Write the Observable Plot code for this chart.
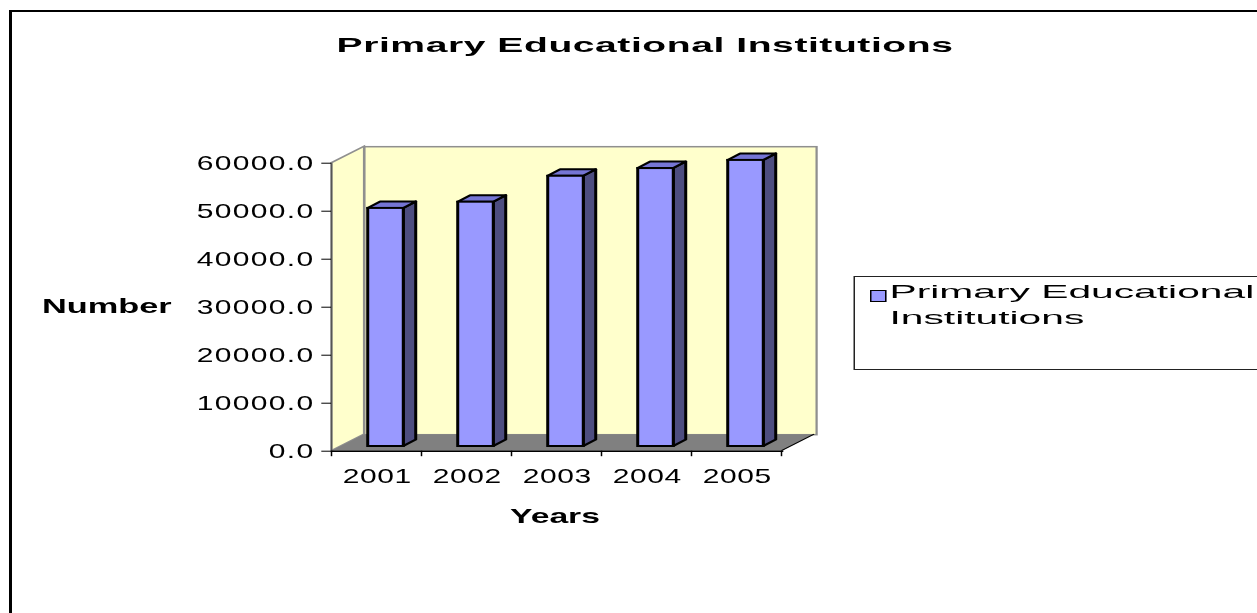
<!DOCTYPE html>
<html>
<head>
<meta charset="utf-8">
<script src="https://cdn.jsdelivr.net/npm/d3@7"></script>
<script src="https://cdn.jsdelivr.net/npm/@observablehq/plot@0.6"></script>
<style>
  html, body { margin: 0; padding: 0; background: #fff; overflow: hidden; width: 1257px; height: 613px; }
  #stage { position: absolute; left: 0; top: 0; width: 838px; height: 613px; transform: scaleX(1.5); transform-origin: 0 0; font-family: "Liberation Sans", Arial, sans-serif; color: #000; }
  #frame { position: absolute; left: 6px; top: 9.5px; width: 1000px; height: 1000px; border-left: 2px solid #000; border-top: 2px solid #000; box-sizing: border-box; }
  #chart { position: absolute; left: 0; top: 0; }
  .lbl { position: absolute; white-space: nowrap; }
  #title { left: 0; width: 860px; top: 32.7px; text-align: center; font-weight: bold; font-size: 21px; line-height: 24px; letter-spacing: 0.3px; transform: scaleX(1.24); transform-origin: 50% 50%; }
  #ylabel { left: 28.4px; top: 293.7px; font-weight: bold; font-size: 21px; line-height: 24px; transform: scaleX(1.09); transform-origin: 0 50%; }
  #xlabel { left: 269.5px; width: 200px; top: 503.7px; text-align: center; font-weight: bold; font-size: 21px; line-height: 24px; transform: scaleX(1.07); transform-origin: 50% 50%; }
  #legend { position: absolute; left: 568.5px; top: 276px; width: 420px; height: 94px; border: 1px solid #222; box-sizing: border-box; background: #fff; }
  #swatch { position: absolute; left: 580.4px; top: 290px; width: 10.3px; height: 11.7px; background: #9999FF; border: 1.4px solid #000; box-sizing: border-box; }
  #legtext { left: 593.3px; top: 279.2px; font-size: 19px; line-height: 25.5px; transform: scaleX(1.43); transform-origin: 0 50%; }
  g[aria-label="y-axis tick label"] text { letter-spacing: 0.9px; }
  g[aria-label="x-axis tick label"] text { letter-spacing: 0.4px; }
</style>
</head>
<body>
<div id="stage">
  <div id="frame"></div>
  <div id="chart"></div>
  <div class="lbl" id="title">Primary Educational Institutions</div>
  <div class="lbl" id="ylabel">Number</div>
  <div class="lbl" id="xlabel">Years</div>
  <div id="legend"></div>
  <div id="swatch"></div>
  <div class="lbl" id="legtext">Primary Educational<br>Institutions</div>
</div>
<script>
// ---- data ----
const years = ["2001", "2002", "2003", "2004", "2005"];
const values = [49600, 50900, 56300, 57900, 59600];
const yTicks = [0, 10000, 20000, 30000, 40000, 50000, 60000];
const seriesName = "Primary Educational Institutions";

// ---- styling (not data) ----
const W = 838, H = 613;
const wallDepth = {dx: 21.7, dy: -16.5};   // back wall offset
const barShift = {dx: 6, dy: -4.7};        // bar placement in depth
const barDepth = {dx: 8.3, dy: -6.5};      // bar thickness in depth
const barInset = 18.15;
const wallFill = "#FFFFCC", wallStroke = "#8f8f8f", floorFill = "#808080";
const barFront = "#9999FF", barTop = "#7575D4", barSide = "#4D4D80";

const data = years.map((year, i) => ({year, value: values[i]}));
const yMax = yTicks[yTicks.length - 1];

const pts = a => a.map(p => p.join(",")).join(" ");

// left wall + floor (depend on scales)
const wallsMark = (index, {x, y}) => {
  const g = d3.create("svg:g");
  const x0 = x(years[0]);
  const x1 = x(years[years.length - 1]) + x.bandwidth();
  const yT = y(yMax), yB = y(0);
  const {dx, dy} = wallDepth;
  g.append("polygon")
    .attr("points", pts([[x0, yT], [x0 + dx, yT + dy], [x0 + dx, yB + dy], [x0, yB]]))
    .attr("fill", wallFill).attr("stroke", wallStroke).attr("stroke-width", 1.5);
  g.append("polygon")
    .attr("points", pts([[x0, yB], [x0 + dx, yB + dy], [x1 + dx, yB + dy], [x1, yB]]))
    .attr("fill", floorFill).attr("stroke", "none");
  // floor right edge
  g.append("line").attr("x1", x1).attr("y1", yB).attr("x2", x1 + dx).attr("y2", yB + dy)
    .attr("stroke", "#000").attr("stroke-width", 1);
  // value axis line (front edge of left wall)
  g.append("line").attr("x1", x0).attr("y1", yT).attr("x2", x0).attr("y2", yB)
    .attr("stroke", "#555").attr("stroke-width", 1);
  // category boundary ticks
  const bounds = years.map(d => x(d)).concat([x1]);
  for (const bx of bounds) {
    g.append("line").attr("x1", bx).attr("y1", yB).attr("x2", bx).attr("y2", yB + 5.5)
      .attr("stroke", "#000").attr("stroke-width", 1);
  }
  return g.node();
};

// side + top faces of the bars
const barFacesMark = (index, {x, y}) => {
  const g = d3.create("svg:g");
  for (const d of data) {
    const xl = x(d.year) + barInset + barShift.dx;
    const xr = x(d.year) + x.bandwidth() - barInset + barShift.dx;
    const yt = y(d.value) + barShift.dy;
    const yb = y(0) + barShift.dy;
    const {dx, dy} = barDepth;
    g.append("polygon")
      .attr("points", pts([[xr, yt], [xr + dx, yt + dy], [xr + dx, yb + dy], [xr, yb]]))
      .attr("fill", barSide).attr("stroke", "#000").attr("stroke-width", 2).attr("stroke-linejoin", "round");
    g.append("polygon")
      .attr("points", pts([[xl, yt], [xl + dx, yt + dy], [xr + dx, yt + dy], [xr, yt]]))
      .attr("fill", barTop).attr("stroke", "#000").attr("stroke-width", 2).attr("stroke-linejoin", "round");
  }
  return g.node();
};

const chart = Plot.plot({
  width: W,
  height: H,
  marginLeft: 220.7,
  marginRight: 315.8,
  marginTop: 162.7,
  marginBottom: 162.3,
  style: {fontFamily: "'Liberation Sans', Arial, sans-serif", fontSize: "20px", color: "#000", background: "transparent", overflow: "visible"},
  x: {type: "band", domain: years, padding: 0},
  y: {domain: [0, yMax]},
  marks: [
    Plot.frame({fill: wallFill, stroke: wallStroke, strokeWidth: 1.5, dx: wallDepth.dx, dy: wallDepth.dy}),
    wallsMark,
    Plot.ruleY([0], {stroke: "#000", strokeWidth: 1.5}),
    Plot.axisY({ticks: yTicks, tickFormat: d => d.toFixed(1), tickSize: 6.5, tickPadding: 5, fontSize: 20, label: null, stroke: "#000", strokeWidth: 1}),
    Plot.axisX({tickSize: 0, tickPadding: 18, fontSize: 20, label: null}),
    barFacesMark,
    Plot.barY(data, {x: "year", y: "value", fill: barFront, stroke: "#000", strokeWidth: 2, insetLeft: barInset, insetRight: barInset, dx: barShift.dx, dy: barShift.dy, title: d => `${seriesName} ${d.year}: ${d.value}`})
  ]
});
document.getElementById("chart").appendChild(chart);
</script>
</body>
</html>
